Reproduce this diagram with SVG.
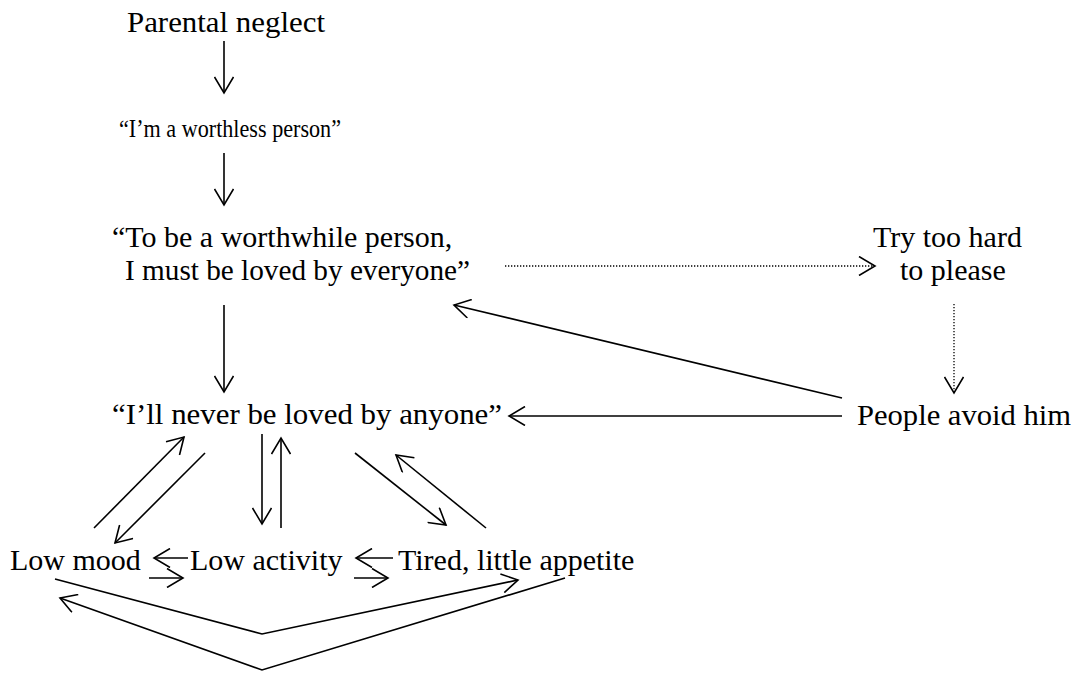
<svg xmlns="http://www.w3.org/2000/svg" width="1079" height="673" viewBox="0 0 1079 673">
<style>
text{font-family:"Liberation Serif","Times New Roman",serif;font-size:30px;fill:#000}
.s{font-size:26px}
.c{fill:none;stroke:#000;stroke-width:1.6}
.d{fill:none;stroke:#000;stroke-width:1.3;stroke-dasharray:1.3 1.7}
</style>
<defs>
<marker id="ah" markerUnits="userSpaceOnUse" viewBox="0 0 20 20" markerWidth="20" markerHeight="20" refX="17" refY="10" orient="auto">
<path d="M1,0.5 L17,10 L1,19.5" fill="none" stroke="#000" stroke-width="1.6"/>
</marker>
</defs>
<rect width="1079" height="673" fill="#fff"/>
<g id="n1"><text x="127" y="32" textLength="198" lengthAdjust="spacingAndGlyphs">Parental neglect</text></g>
<g id="n2"><text x="119" y="137" class="s" textLength="222" lengthAdjust="spacingAndGlyphs">“I’m a worthless person”</text></g>
<g id="n3"><text x="112" y="247">“To be a worthwhile person,</text><text x="125" y="280" textLength="345" lengthAdjust="spacingAndGlyphs">I must be loved by everyone”</text></g>
<g id="n4"><text x="873" y="247">Try too hard</text><text x="900" y="280">to please</text></g>
<g id="n5"><text x="112" y="424" textLength="390" lengthAdjust="spacingAndGlyphs">“I’ll never be loved by anyone”</text></g>
<g id="n6"><text x="857" y="425" textLength="214" lengthAdjust="spacingAndGlyphs">People avoid him</text></g>
<g id="n7"><text x="10" y="570">Low mood</text></g>
<g id="n8"><text x="190" y="570">Low activity</text></g>
<g id="n9"><text x="398" y="570">Tired, little appetite</text></g>
<g id="connectors">
<line class="c" x1="224" y1="41" x2="224" y2="93" marker-end="url(#ah)"/>
<line class="c" x1="224" y1="153" x2="224" y2="205" marker-end="url(#ah)"/>
<line class="c" x1="224" y1="305" x2="224" y2="392" marker-end="url(#ah)"/>
<line class="d" x1="505" y1="266" x2="875" y2="266" marker-end="url(#ah)"/>
<line class="d" x1="954" y1="304" x2="954" y2="393" marker-end="url(#ah)"/>
<line class="c" x1="842" y1="398" x2="454" y2="305" marker-end="url(#ah)"/>
<line class="c" x1="842" y1="416" x2="509" y2="416" marker-end="url(#ah)"/>
<line class="c" x1="94" y1="528" x2="184" y2="437" marker-end="url(#ah)"/>
<line class="c" x1="205" y1="453" x2="115" y2="543" marker-end="url(#ah)"/>
<line class="c" x1="262" y1="434" x2="262" y2="524" marker-end="url(#ah)"/>
<line class="c" x1="281" y1="528" x2="281" y2="438" marker-end="url(#ah)"/>
<line class="c" x1="355" y1="453" x2="446" y2="525" marker-end="url(#ah)"/>
<line class="c" x1="486" y1="528" x2="396" y2="455" marker-end="url(#ah)"/>
<line class="c" x1="188" y1="558" x2="154" y2="558" marker-end="url(#ah)"/>
<line class="c" x1="149" y1="578" x2="183" y2="578" marker-end="url(#ah)"/>
<line class="c" x1="393" y1="558" x2="356" y2="558" marker-end="url(#ah)"/>
<line class="c" x1="354" y1="578" x2="388" y2="578" marker-end="url(#ah)"/>
<polyline class="c" points="55,579 262,634 518,580" marker-end="url(#ah)"/>
<polyline class="c" points="565,578 262,670 60,598" marker-end="url(#ah)"/>
</g>
</svg>
